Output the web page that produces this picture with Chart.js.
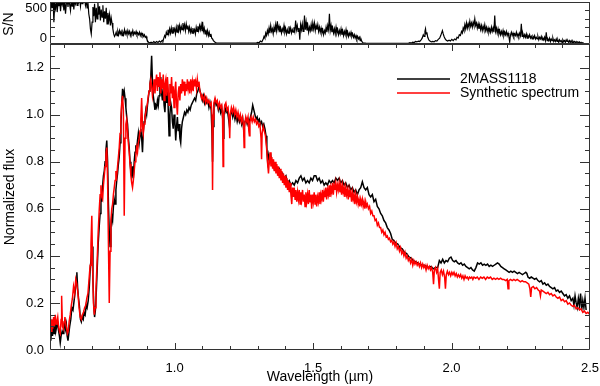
<!DOCTYPE html>
<html>
<head>
<meta charset="utf-8">
<script src="https://cdn.jsdelivr.net/npm/chart.js@4.4.1/dist/chart.umd.min.js"></script>
<style>
  body { margin: 0; background: #fff; }
  canvas { position: absolute; left: 0; top: 0; }
</style>
</head>
<body>
<canvas id="fluxChart" width="600" height="386"></canvas>
<canvas id="snChart" width="600" height="46"></canvas>
<script>
/* Spectrum: [wavelength (um), value] */
const obsSpectrum = [
  [0.549,0.07],[0.551,0.13],[0.553,0.04],[0.556,0.10],[0.559,0.06],[0.562,0.11],[0.565,0.07],[0.568,0.12],[0.571,0.08],[0.574,0.10],
  [0.577,0.12],[0.580,0.09],[0.584,0.06],[0.587,0.03],[0.590,0.06],[0.594,0.08],[0.597,0.07],[0.600,0.10],[0.603,0.12],[0.606,0.09],
  [0.609,0.11],[0.612,0.06],[0.615,0.04],[0.618,0.07],[0.621,0.10],[0.625,0.13],[0.629,0.18],[0.633,0.17],[0.637,0.21],[0.641,0.25],
  [0.644,0.28],[0.647,0.33],[0.650,0.26],[0.653,0.22],[0.656,0.19],[0.660,0.13],[0.663,0.12],[0.666,0.14],[0.670,0.13],[0.673,0.16],
  [0.677,0.15],[0.681,0.19],[0.684,0.18],[0.688,0.21],[0.692,0.27],[0.695,0.34],[0.699,0.40],[0.702,0.44],[0.705,0.30],[0.708,0.19],
  [0.711,0.14],[0.714,0.17],[0.717,0.24],[0.720,0.33],[0.724,0.45],[0.728,0.53],[0.731,0.58],[0.734,0.66],[0.737,0.63],[0.740,0.70],
  [0.743,0.74],[0.746,0.76],[0.749,0.80],[0.752,0.85],[0.755,0.89],[0.758,0.80],[0.761,0.62],[0.764,0.50],[0.767,0.44],[0.770,0.52],
  [0.773,0.57],[0.776,0.55],[0.779,0.61],[0.782,0.64],[0.785,0.62],[0.788,0.68],[0.791,0.72],[0.794,0.75],[0.797,0.79],[0.800,0.82],
  [0.803,0.88],[0.806,0.95],[0.809,1.04],[0.812,1.11],[0.815,1.08],[0.818,1.10],[0.821,1.07],[0.824,1.03],[0.827,0.99],[0.830,0.96],
  [0.833,0.90],[0.836,0.86],[0.839,0.80],[0.842,0.76],[0.845,0.74],[0.848,0.78],[0.851,0.73],[0.854,0.80],[0.857,0.84],[0.860,0.87],
  [0.863,0.85],[0.866,0.89],[0.869,0.92],[0.872,0.88],[0.875,0.91],[0.878,0.94],[0.881,0.90],[0.884,0.84],[0.887,0.93],[0.890,0.97],
  [0.893,0.99],[0.896,1.02],[0.899,1.00],[0.902,1.04],[0.905,1.07],[0.908,1.10],[0.911,1.13],[0.914,1.16],[0.917,1.25],[0.920,1.14],
  [0.923,1.08],[0.926,1.05],[0.929,1.02],[0.932,1.04],[0.935,1.03],[0.938,1.06],[0.941,1.04],[0.944,1.08],[0.947,1.12],[0.950,1.16],
  [0.953,1.09],[0.956,1.06],[0.959,1.11],[0.962,1.04],[0.965,1.01],[0.968,1.09],[0.971,1.05],[0.974,1.13],[0.977,1.02],[0.980,0.91],
  [0.983,1.00],[0.986,1.05],[0.989,1.03],[0.992,0.97],[0.995,0.94],[0.998,1.00],[1.001,0.97],[1.004,0.89],[1.007,0.95],[1.010,0.99],
  [1.013,0.93],[1.016,0.96],[1.019,0.90],[1.022,0.88],[1.025,0.94],[1.028,0.97],[1.032,0.99],[1.036,1.01],[1.040,1.00],[1.044,1.02],
  [1.048,1.01],[1.052,1.03],[1.056,1.02],[1.060,1.04],[1.064,1.05],[1.068,1.06],[1.072,1.07],[1.076,1.06],[1.080,1.09],[1.084,1.10],
  [1.088,1.12],[1.092,1.10],[1.096,1.08],[1.100,1.06],[1.104,1.08],[1.108,1.05],[1.112,1.07],[1.116,1.05],[1.120,1.06],[1.124,1.03],
  [1.128,1.05],[1.132,1.02],[1.135,0.92],[1.137,0.80],[1.139,0.95],[1.142,1.04],[1.146,1.06],[1.150,1.04],[1.154,1.05],[1.158,1.02],
  [1.162,1.04],[1.166,1.01],[1.170,1.03],[1.174,0.98],[1.176,0.90],[1.178,1.00],[1.182,1.03],[1.186,1.01],[1.190,1.02],[1.194,0.99],
  [1.198,0.95],[1.202,1.00],[1.206,1.02],[1.210,0.99],[1.214,1.01],[1.218,0.98],[1.222,1.00],[1.226,0.97],[1.230,0.99],[1.234,0.97],
  [1.238,0.99],[1.242,0.96],[1.246,0.98],[1.250,0.93],[1.254,0.97],[1.258,0.98],[1.262,0.96],[1.266,0.98],[1.270,0.97],[1.274,0.99],
  [1.278,1.01],[1.282,1.04],[1.286,1.02],[1.290,1.00],[1.294,0.98],[1.298,0.99],[1.302,0.97],[1.306,0.98],[1.310,0.96],[1.314,0.97],
  [1.318,0.95],[1.322,0.96],[1.326,0.94],[1.330,0.91],[1.333,0.86],[1.336,0.80],[1.340,0.83],[1.344,0.80],[1.348,0.82],[1.352,0.79],
  [1.356,0.80],[1.360,0.77],[1.366,0.78],[1.372,0.76],[1.378,0.77],[1.384,0.74],[1.390,0.75],[1.396,0.73],[1.402,0.74],[1.408,0.71],
  [1.414,0.72],[1.420,0.70],[1.426,0.71],[1.432,0.70],[1.438,0.72],[1.444,0.71],[1.450,0.73],[1.456,0.74],[1.462,0.72],[1.468,0.73],
  [1.474,0.71],[1.480,0.72],[1.486,0.71],[1.492,0.73],[1.498,0.72],[1.504,0.74],[1.510,0.74],[1.516,0.72],[1.522,0.73],[1.528,0.71],
  [1.534,0.72],[1.540,0.70],[1.546,0.71],[1.552,0.70],[1.558,0.72],[1.564,0.71],[1.570,0.72],[1.576,0.71],[1.582,0.73],[1.588,0.72],
  [1.594,0.73],[1.600,0.71],[1.606,0.72],[1.612,0.70],[1.618,0.71],[1.624,0.69],[1.630,0.70],[1.636,0.68],[1.642,0.69],[1.648,0.67],
  [1.654,0.68],[1.660,0.66],[1.666,0.68],[1.672,0.69],[1.678,0.715],[1.684,0.69],[1.690,0.68],[1.696,0.69],[1.702,0.66],[1.708,0.65],
  [1.714,0.66],[1.720,0.63],[1.726,0.64],[1.732,0.61],[1.738,0.60],[1.744,0.58],[1.750,0.57],[1.756,0.55],[1.762,0.54],[1.768,0.52],
  [1.774,0.51],[1.780,0.495],[1.786,0.47],[1.792,0.465],[1.798,0.455],[1.806,0.45],[1.814,0.435],[1.822,0.43],[1.830,0.415],[1.838,0.41],
  [1.846,0.395],[1.854,0.39],[1.862,0.38],[1.870,0.375],[1.878,0.37],[1.886,0.365],[1.894,0.36],[1.902,0.36],[1.910,0.355],[1.918,0.35],
  [1.926,0.355],[1.934,0.345],[1.942,0.35],[1.950,0.35],[1.956,0.38],[1.962,0.37],[1.968,0.385],[1.974,0.37],[1.980,0.38],[1.986,0.375],
  [1.992,0.39],[1.998,0.395],[2.004,0.38],[2.010,0.375],[2.016,0.38],[2.022,0.37],[2.028,0.365],[2.034,0.37],[2.040,0.36],[2.046,0.365],
  [2.052,0.355],[2.058,0.35],[2.064,0.345],[2.070,0.35],[2.076,0.34],[2.082,0.335],[2.088,0.35],[2.094,0.37],[2.100,0.365],[2.106,0.37],
  [2.112,0.36],[2.118,0.365],[2.124,0.36],[2.130,0.365],[2.136,0.355],[2.142,0.36],[2.148,0.355],[2.154,0.36],[2.160,0.365],[2.166,0.37],
  [2.172,0.365],[2.178,0.355],[2.184,0.35],[2.190,0.345],[2.196,0.34],[2.202,0.335],[2.208,0.33],[2.214,0.335],[2.220,0.33],[2.226,0.335],
  [2.232,0.33],[2.238,0.325],[2.244,0.33],[2.250,0.325],[2.256,0.32],[2.262,0.325],[2.268,0.33],[2.272,0.325],[2.276,0.31],[2.282,0.305],
  [2.288,0.31],[2.294,0.305],[2.300,0.30],[2.306,0.305],[2.312,0.295],[2.318,0.29],[2.324,0.295],[2.330,0.28],[2.336,0.285],[2.342,0.275],
  [2.348,0.28],[2.354,0.27],[2.360,0.265],[2.366,0.26],[2.372,0.265],[2.378,0.25],[2.384,0.255],[2.390,0.245],[2.396,0.25],[2.402,0.24],
  [2.408,0.23],[2.414,0.235],[2.420,0.22],[2.426,0.23],[2.432,0.21],[2.438,0.22],[2.442,0.19],[2.446,0.23],[2.450,0.20],[2.454,0.18],
  [2.458,0.22],[2.462,0.19],[2.466,0.24],[2.470,0.17],[2.474,0.21],[2.478,0.18],[2.482,0.22],[2.486,0.17]
];

const synSpectrum = [
  [0.549,0.10],[0.551,0.15],[0.554,0.08],[0.557,0.13],[0.560,0.09],[0.563,0.14],[0.566,0.10],[0.569,0.15],[0.572,0.11],[0.575,0.12],
  [0.578,0.14],[0.581,0.10],[0.584,0.08],[0.587,0.07],[0.590,0.13],[0.592,0.23],[0.595,0.10],[0.598,0.09],[0.601,0.12],[0.604,0.14],
  [0.607,0.11],[0.610,0.09],[0.613,0.07],[0.616,0.08],[0.619,0.12],[0.623,0.15],[0.627,0.19],[0.631,0.22],[0.635,0.27],[0.639,0.24],
  [0.643,0.30],[0.647,0.28],[0.651,0.24],[0.655,0.18],[0.659,0.14],[0.663,0.13],[0.667,0.15],[0.671,0.16],[0.675,0.18],[0.679,0.19],
  [0.683,0.22],[0.687,0.24],[0.691,0.30],[0.695,0.36],[0.698,0.45],[0.701,0.57],[0.704,0.34],[0.707,0.20],[0.710,0.15],[0.713,0.18],
  [0.716,0.26],[0.720,0.37],[0.724,0.50],[0.728,0.60],[0.731,0.66],[0.734,0.70],[0.737,0.65],[0.740,0.64],[0.743,0.70],[0.746,0.74],
  [0.749,0.78],[0.752,0.83],[0.755,0.86],[0.758,0.72],[0.761,0.45],[0.764,0.20],[0.767,0.42],[0.770,0.55],[0.773,0.60],[0.776,0.62],
  [0.779,0.66],[0.782,0.69],[0.785,0.72],[0.788,0.76],[0.791,0.74],[0.794,0.78],[0.797,0.82],[0.800,0.86],[0.803,0.92],[0.806,0.99],
  [0.809,1.05],[0.812,1.08],[0.815,1.02],[0.818,0.57],[0.821,0.90],[0.824,0.96],[0.827,0.98],[0.830,0.93],[0.833,0.88],[0.836,0.84],
  [0.839,0.79],[0.842,0.74],[0.845,0.71],[0.848,0.69],[0.851,0.72],[0.854,0.76],[0.857,0.80],[0.860,0.83],[0.863,0.86],[0.866,0.84],
  [0.869,0.88],[0.872,0.90],[0.875,0.93],[0.878,0.98],[0.881,1.07],[0.884,0.95],[0.887,0.92],[0.890,0.96],[0.893,0.99],[0.896,1.01],
  [0.899,1.03],[0.902,1.05],[0.905,1.08],[0.908,1.10],[0.911,1.13],[0.914,1.15],[0.917,1.12],[0.920,1.08],[0.923,1.11],[0.926,1.15],
  [0.929,1.09],[0.932,1.14],[0.935,1.17],[0.938,1.10],[0.941,1.16],[0.944,1.12],[0.947,1.18],[0.950,1.09],[0.953,1.15],[0.956,1.11],
  [0.959,1.17],[0.962,1.06],[0.965,1.13],[0.968,1.15],[0.971,1.08],[0.974,1.16],[0.977,1.10],[0.980,1.04],[0.983,1.13],[0.986,1.09],
  [0.989,1.16],[0.992,1.07],[0.995,1.12],[0.998,1.03],[1.001,1.10],[1.004,1.14],[1.007,1.05],[1.010,1.00],[1.013,1.09],[1.016,1.12],
  [1.019,1.06],[1.022,1.13],[1.025,1.09],[1.028,1.15],[1.031,1.10],[1.034,1.14],[1.037,1.08],[1.040,1.13],[1.043,1.10],[1.046,1.15],
  [1.049,1.11],[1.052,1.14],[1.055,1.09],[1.058,1.15],[1.061,1.11],[1.064,1.14],[1.067,1.10],[1.070,1.15],[1.073,1.12],[1.076,1.14],
  [1.079,1.11],[1.082,1.15],[1.085,1.12],[1.088,1.14],[1.091,1.10],[1.094,1.09],[1.097,1.07],[1.100,1.08],[1.104,1.06],[1.108,1.08],
  [1.112,1.05],[1.116,1.07],[1.120,1.05],[1.124,1.06],[1.128,1.04],[1.132,1.05],[1.135,1.00],[1.137,0.68],[1.139,0.98],[1.142,1.05],
  [1.146,1.07],[1.150,1.05],[1.154,1.06],[1.158,1.03],[1.162,1.05],[1.166,1.03],[1.170,1.04],[1.173,1.00],[1.175,0.78],[1.177,0.99],
  [1.181,1.04],[1.185,1.05],[1.189,1.02],[1.193,1.03],[1.197,0.98],[1.199,0.90],[1.201,1.00],[1.205,1.03],[1.209,1.01],[1.213,1.03],
  [1.217,1.00],[1.221,1.02],[1.225,0.99],[1.229,1.01],[1.233,0.98],[1.237,1.00],[1.241,0.97],[1.245,0.99],[1.249,0.95],[1.251,0.86],
  [1.253,0.96],[1.257,0.99],[1.261,0.97],[1.265,0.99],[1.268,0.93],[1.270,0.91],[1.272,0.97],[1.276,0.99],[1.280,0.97],[1.284,0.99],
  [1.288,0.97],[1.292,0.98],[1.296,0.96],[1.300,0.97],[1.304,0.95],[1.308,0.96],[1.312,0.90],[1.314,0.81],[1.316,0.92],[1.320,0.95],
  [1.324,0.93],[1.328,0.91],[1.332,0.86],[1.336,0.79],[1.339,0.75],[1.342,0.81],[1.345,0.84],[1.348,0.78],[1.351,0.82],[1.354,0.77],
  [1.357,0.81],[1.360,0.76],[1.363,0.80],[1.366,0.75],[1.369,0.79],[1.372,0.74],[1.375,0.78],[1.378,0.73],[1.381,0.77],[1.384,0.72],
  [1.387,0.76],[1.390,0.71],[1.393,0.75],[1.396,0.70],[1.399,0.74],[1.402,0.69],[1.405,0.73],[1.408,0.68],[1.411,0.72],[1.414,0.67],
  [1.417,0.71],[1.420,0.66],[1.423,0.62],[1.426,0.69],[1.429,0.65],[1.432,0.69],[1.435,0.64],[1.438,0.68],[1.441,0.63],[1.444,0.67],
  [1.447,0.64],[1.450,0.68],[1.453,0.62],[1.456,0.67],[1.459,0.64],[1.462,0.68],[1.465,0.63],[1.468,0.66],[1.471,0.61],[1.474,0.67],
  [1.477,0.63],[1.480,0.66],[1.483,0.62],[1.486,0.68],[1.489,0.63],[1.492,0.66],[1.495,0.60],[1.498,0.66],[1.501,0.63],[1.504,0.67],
  [1.507,0.62],[1.510,0.66],[1.513,0.61],[1.516,0.65],[1.519,0.63],[1.522,0.67],[1.525,0.62],[1.528,0.66],[1.531,0.64],[1.534,0.68],
  [1.537,0.63],[1.540,0.67],[1.543,0.65],[1.546,0.69],[1.549,0.64],[1.552,0.68],[1.555,0.66],[1.558,0.70],[1.561,0.65],[1.564,0.69],
  [1.567,0.67],[1.570,0.71],[1.573,0.66],[1.576,0.70],[1.579,0.68],[1.582,0.71],[1.585,0.67],[1.588,0.70],[1.591,0.68],[1.594,0.71],
  [1.597,0.67],[1.600,0.70],[1.603,0.66],[1.606,0.70],[1.609,0.67],[1.612,0.69],[1.615,0.65],[1.618,0.69],[1.621,0.66],[1.624,0.68],
  [1.627,0.64],[1.630,0.68],[1.633,0.65],[1.636,0.67],[1.639,0.63],[1.642,0.67],[1.645,0.64],[1.648,0.66],[1.651,0.62],[1.654,0.66],
  [1.657,0.63],[1.660,0.65],[1.663,0.62],[1.666,0.64],[1.669,0.61],[1.672,0.64],[1.675,0.62],[1.678,0.64],[1.681,0.61],[1.684,0.63],
  [1.687,0.60],[1.690,0.63],[1.693,0.61],[1.696,0.62],[1.700,0.60],[1.704,0.61],[1.708,0.58],[1.712,0.59],[1.716,0.57],[1.720,0.57],
  [1.724,0.55],[1.728,0.555],[1.732,0.53],[1.736,0.54],[1.740,0.52],[1.744,0.52],[1.748,0.50],[1.752,0.51],[1.756,0.49],[1.760,0.50],
  [1.764,0.48],[1.768,0.485],[1.772,0.47],[1.776,0.475],[1.780,0.46],[1.784,0.465],[1.788,0.45],[1.792,0.46],[1.796,0.44],[1.800,0.455],
  [1.804,0.43],[1.808,0.44],[1.812,0.42],[1.816,0.435],[1.820,0.41],[1.824,0.42],[1.828,0.40],[1.832,0.415],[1.836,0.39],[1.840,0.40],
  [1.844,0.38],[1.848,0.39],[1.852,0.37],[1.856,0.385],[1.860,0.36],[1.864,0.38],[1.868,0.365],[1.872,0.375],[1.876,0.36],[1.880,0.37],
  [1.884,0.355],[1.888,0.37],[1.892,0.35],[1.896,0.365],[1.900,0.35],[1.904,0.36],[1.908,0.34],[1.912,0.36],[1.916,0.345],[1.920,0.355],
  [1.924,0.34],[1.928,0.35],[1.932,0.33],[1.935,0.28],[1.938,0.34],[1.942,0.35],[1.946,0.33],[1.950,0.345],[1.953,0.30],[1.956,0.26],
  [1.959,0.33],[1.963,0.34],[1.967,0.32],[1.971,0.335],[1.975,0.31],[1.978,0.26],[1.981,0.32],[1.985,0.335],[1.989,0.32],[1.993,0.33],
  [1.997,0.315],[2.001,0.33],[2.005,0.32],[2.009,0.33],[2.013,0.315],[2.017,0.325],[2.021,0.31],[2.025,0.32],[2.029,0.31],[2.033,0.32],
  [2.037,0.305],[2.041,0.315],[2.045,0.30],[2.049,0.315],[2.053,0.305],[2.057,0.31],[2.061,0.30],[2.065,0.31],[2.069,0.305],[2.073,0.31],
  [2.077,0.30],[2.081,0.31],[2.087,0.305],[2.093,0.31],[2.099,0.30],[2.105,0.31],[2.111,0.305],[2.117,0.31],[2.123,0.30],[2.129,0.31],
  [2.135,0.305],[2.141,0.31],[2.147,0.30],[2.153,0.305],[2.159,0.30],[2.165,0.305],[2.171,0.30],[2.177,0.305],[2.183,0.30],[2.189,0.30],
  [2.195,0.295],[2.201,0.30],[2.204,0.26],[2.207,0.295],[2.213,0.30],[2.219,0.295],[2.225,0.30],[2.231,0.295],[2.237,0.30],[2.243,0.295],
  [2.249,0.29],[2.255,0.295],[2.261,0.29],[2.267,0.29],[2.273,0.285],[2.279,0.28],[2.283,0.26],[2.286,0.225],[2.289,0.265],[2.295,0.27],
  [2.301,0.26],[2.307,0.265],[2.313,0.255],[2.318,0.25],[2.321,0.23],[2.324,0.255],[2.330,0.25],[2.336,0.245],[2.342,0.24],[2.348,0.245],
  [2.354,0.235],[2.360,0.24],[2.366,0.23],[2.372,0.235],[2.378,0.225],[2.384,0.22],[2.390,0.225],[2.396,0.21],[2.402,0.215],[2.408,0.205],
  [2.414,0.21],[2.420,0.195],[2.426,0.20],[2.432,0.19],[2.438,0.185],[2.444,0.19],[2.450,0.175],[2.456,0.18],[2.462,0.17],[2.468,0.175],
  [2.474,0.16],[2.480,0.165],[2.486,0.155],[2.492,0.16],[2.500,0.15]
];

/* S/N of the observed spectrum (top panel), clipped at 500 */
const snCurve = [
  [0.549,480],[0.552,380],[0.555,520],[0.558,430],[0.561,540],[0.564,260],[0.567,470],[0.570,420],[0.573,540],[0.576,380],
  [0.579,500],[0.582,450],[0.585,540],[0.588,390],[0.591,510],[0.594,470],[0.597,540],[0.600,400],[0.603,520],[0.606,360],
  [0.609,480],[0.612,530],[0.615,440],[0.618,540],[0.621,470],[0.624,400],[0.627,530],[0.630,450],[0.633,540],[0.636,410],
  [0.639,520],[0.642,480],[0.645,540],[0.648,460],[0.651,530],[0.654,500],[0.657,540],[0.660,450],[0.663,540],[0.666,480],
  [0.669,530],[0.672,510],[0.675,540],[0.678,460],[0.681,520],[0.684,430],[0.687,500],[0.690,360],[0.693,300],[0.696,180],
  [0.699,120],[0.702,260],[0.705,440],[0.708,330],[0.711,480],[0.714,260],[0.717,430],[0.720,300],[0.723,490],[0.726,350],
  [0.729,450],[0.732,280],[0.735,410],[0.738,320],[0.741,460],[0.744,260],[0.747,390],[0.750,300],[0.753,430],[0.756,240],
  [0.759,370],[0.762,280],[0.765,350],[0.768,220],[0.771,310],[0.774,250],[0.777,180],[0.780,120],[0.783,90],[0.786,110],
  [0.789,140],[0.792,100],[0.795,150],[0.798,110],[0.801,160],[0.804,120],[0.807,150],[0.810,100],[0.813,140],[0.816,110],
  [0.819,170],[0.822,120],[0.825,150],[0.828,110],[0.831,160],[0.834,120],[0.837,150],[0.840,100],[0.843,140],[0.846,120],
  [0.849,160],[0.852,110],[0.855,140],[0.858,120],[0.861,150],[0.864,110],[0.867,130],[0.870,110],[0.873,140],[0.876,100],
  [0.879,130],[0.882,100],[0.885,120],[0.888,90],[0.891,110],[0.894,80],[0.897,90],[0.900,55],[0.903,35],[0.906,20],
  [0.910,12],[0.915,22],[0.920,12],[0.925,28],[0.930,16],[0.935,30],[0.940,18],[0.945,34],[0.950,22],[0.955,44],
  [0.958,34],[0.961,70],[0.964,100],[0.967,80],[0.970,140],[0.973,110],[0.976,170],[0.979,120],[0.982,180],[0.985,130],
  [0.988,190],[0.991,130],[0.994,200],[0.997,150],[1.000,180],[1.003,120],[1.006,200],[1.009,140],[1.012,230],[1.015,160],
  [1.018,220],[1.021,150],[1.024,210],[1.027,170],[1.030,250],[1.033,180],[1.036,230],[1.039,160],[1.042,240],[1.045,180],
  [1.048,220],[1.051,150],[1.054,200],[1.057,140],[1.060,180],[1.063,130],[1.066,190],[1.069,140],[1.072,170],[1.075,120],
  [1.078,200],[1.081,150],[1.084,210],[1.087,160],[1.090,220],[1.093,170],[1.096,230],[1.099,160],[1.101,265],[1.104,150],
  [1.107,190],[1.110,120],[1.113,170],[1.116,110],[1.119,160],[1.122,100],[1.125,140],[1.128,90],[1.131,120],[1.134,70],
  [1.137,60],[1.140,40],[1.145,25],[1.150,15],[1.160,10],[1.180,10],[1.200,10],[1.220,10],[1.240,10],[1.260,10],
  [1.280,10],[1.295,12],[1.300,20],[1.305,15],[1.310,35],[1.315,25],[1.320,60],[1.323,90],[1.326,70],[1.329,130],
  [1.332,100],[1.335,160],[1.338,120],[1.341,190],[1.344,130],[1.347,220],[1.350,150],[1.353,180],[1.356,120],[1.359,200],
  [1.362,140],[1.365,230],[1.368,160],[1.371,270],[1.374,170],[1.377,210],[1.380,140],[1.383,190],[1.386,130],[1.389,180],
  [1.392,150],[1.395,220],[1.398,140],[1.401,180],[1.404,120],[1.407,170],[1.410,130],[1.413,210],[1.416,150],[1.419,190],
  [1.422,130],[1.425,170],[1.428,140],[1.431,200],[1.434,150],[1.437,280],[1.440,170],[1.443,220],[1.446,150],[1.449,190],
  [1.452,50],[1.455,230],[1.458,170],[1.461,240],[1.464,150],[1.467,220],[1.469,340],[1.472,170],[1.475,260],[1.478,160],
  [1.481,220],[1.484,140],[1.487,200],[1.490,160],[1.493,230],[1.496,150],[1.499,250],[1.502,180],[1.505,250],[1.508,160],
  [1.511,220],[1.514,170],[1.517,230],[1.520,150],[1.523,200],[1.526,140],[1.529,190],[1.532,130],[1.535,170],[1.538,110],
  [1.541,160],[1.544,130],[1.547,200],[1.550,140],[1.553,220],[1.556,170],[1.559,360],[1.562,160],[1.565,220],[1.568,140],
  [1.571,190],[1.574,130],[1.577,180],[1.580,120],[1.583,200],[1.586,130],[1.589,170],[1.592,110],[1.595,160],[1.598,120],
  [1.601,180],[1.604,110],[1.607,160],[1.610,100],[1.613,150],[1.616,110],[1.619,170],[1.622,100],[1.625,140],[1.628,90],
  [1.631,130],[1.634,100],[1.637,140],[1.640,90],[1.643,120],[1.646,80],[1.649,110],[1.652,70],[1.655,100],[1.658,60],
  [1.661,90],[1.664,60],[1.667,80],[1.670,40],[1.673,60],[1.676,30],[1.680,15],[1.690,10],[1.720,8],[1.760,8],
  [1.800,8],[1.845,10],[1.850,15],[1.855,12],[1.860,22],[1.865,18],[1.870,30],[1.875,25],[1.880,35],[1.885,30],
  [1.890,50],[1.894,70],[1.898,110],[1.901,90],[1.904,150],[1.906,180],[1.908,120],[1.911,140],[1.914,80],[1.918,50],
  [1.922,35],[1.927,25],[1.932,30],[1.937,25],[1.942,40],[1.947,35],[1.952,55],[1.957,70],[1.961,100],[1.964,130],
  [1.967,160],[1.970,120],[1.973,90],[1.977,60],[1.981,45],[1.986,35],[1.991,45],[1.996,35],[2.001,55],[2.006,40],
  [2.011,60],[2.016,50],[2.020,80],[2.024,70],[2.028,110],[2.032,100],[2.036,150],[2.039,130],[2.042,190],[2.045,160],
  [2.048,230],[2.051,180],[2.054,250],[2.057,190],[2.060,240],[2.063,200],[2.066,270],[2.069,210],[2.072,250],[2.075,200],
  [2.078,260],[2.081,220],[2.084,300],[2.087,220],[2.090,250],[2.093,190],[2.096,240],[2.099,180],[2.102,230],[2.105,170],
  [2.108,220],[2.111,160],[2.114,210],[2.117,170],[2.120,230],[2.123,160],[2.126,200],[2.129,150],[2.132,190],[2.135,140],
  [2.138,180],[2.141,140],[2.144,200],[2.147,150],[2.150,190],[2.153,140],[2.156,340],[2.159,150],[2.162,190],[2.165,130],
  [2.168,180],[2.171,120],[2.174,160],[2.177,110],[2.180,150],[2.183,110],[2.186,160],[2.189,100],[2.192,140],[2.195,110],
  [2.198,150],[2.201,100],[2.204,130],[2.207,90],[2.210,25],[2.213,110],[2.216,140],[2.219,100],[2.222,130],[2.225,90],
  [2.228,120],[2.231,100],[2.234,140],[2.237,90],[2.240,120],[2.243,90],[2.246,130],[2.249,100],[2.252,240],[2.255,90],
  [2.258,120],[2.261,80],[2.264,110],[2.267,80],[2.270,120],[2.273,70],[2.276,100],[2.279,80],[2.282,110],[2.285,70],
  [2.288,90],[2.291,60],[2.294,90],[2.297,70],[2.300,100],[2.303,60],[2.306,80],[2.309,60],[2.312,90],[2.315,50],
  [2.318,80],[2.321,60],[2.324,90],[2.327,50],[2.330,70],[2.333,50],[2.336,80],[2.339,40],[2.342,140],[2.345,40],
  [2.348,60],[2.351,40],[2.354,70],[2.357,30],[2.360,60],[2.363,40],[2.366,70],[2.369,30],[2.372,50],[2.375,30],
  [2.378,60],[2.381,30],[2.384,50],[2.387,20],[2.390,50],[2.393,30],[2.396,40],[2.399,20],[2.402,50],[2.405,30],
  [2.408,40],[2.411,20],[2.414,50],[2.417,30],[2.420,40],[2.423,20],[2.426,40],[2.429,20],[2.432,40],[2.435,15],
  [2.438,35],[2.441,20],[2.444,30],[2.447,15],[2.450,30],[2.453,15],[2.456,25],[2.459,15],[2.462,25],[2.465,10],
  [2.468,20],[2.471,10],[2.474,15],[2.477,8]
];

const waveTicks = [1.0, 1.5, 2.0, 2.5];
const fluxTicks = [0.0, 0.2, 0.4, 0.6, 0.8, 1.0, 1.2];
const snTicks = [0, 500];
const seriesNames = ["2MASS1118", "Synthetic spectrum"];
const seriesColors = ["#000000", "#ff0000"];

const FONT = "'Liberation Sans', Arial, Helvetica, sans-serif";
const toPoints = arr => arr.map(p => ({ x: p[0], y: p[1] }));

// tick positions: every 0.1 um on x, every 0.05 on flux, every 100 on S/N
const waveMinor = [];
for (let i = 6; i <= 24; i++) waveMinor.push({ v: i / 10, major: i % 5 === 0 });
const fluxMinor = [];
for (let i = 1; i <= 25; i++) fluxMinor.push({ v: i * 0.05, major: i % 4 === 0 });
const snMinor = [];
for (let i = 1; i <= 4; i++) snMinor.push({ v: i * 100, major: false });

/* Box round the plot with IDL style ticks pointing inwards */
function drawFrame(chart, xList, yList, xLen, yLen) {
  const { ctx, chartArea: a, scales } = chart;
  ctx.save();
  ctx.strokeStyle = "#333";
  ctx.lineWidth = 1;
  ctx.beginPath();
  ctx.rect(a.left + 0.5, a.top + 0.5, a.right - a.left - 1, a.bottom - a.top - 1);
  xList.forEach(t => {
    const x = Math.round(scales.x.getPixelForValue(t.v)) + 0.5;
    const len = t.major ? xLen[0] : xLen[1];
    ctx.moveTo(x, a.bottom); ctx.lineTo(x, a.bottom - len);
    ctx.moveTo(x, a.top); ctx.lineTo(x, a.top + len);
  });
  yList.forEach(t => {
    const y = Math.round(scales.y.getPixelForValue(t.v)) + 0.5;
    const len = t.major ? yLen[0] : yLen[1];
    ctx.moveTo(a.left, y); ctx.lineTo(a.left + len, y);
    ctx.moveTo(a.right, y); ctx.lineTo(a.right - len, y);
  });
  ctx.stroke();
  ctx.restore();
}

const fluxFrame = {
  id: "fluxFrame",
  afterDraw(chart) {
    drawFrame(chart, waveMinor, fluxMinor, [7, 4], [10, 5]);
    // legend, upper right inside the plot
    const { ctx, chartArea: a } = chart;
    ctx.save();
    ctx.font = "14px " + FONT;
    ctx.textBaseline = "middle";
    seriesNames.forEach((name, i) => {
      const y = a.top + 35 + i * 14;
      ctx.strokeStyle = seriesColors[i];
      ctx.lineWidth = 1.5;
      ctx.beginPath();
      ctx.moveTo(a.right - 193, y);
      ctx.lineTo(a.right - 140, y);
      ctx.stroke();
      ctx.fillStyle = "#000";
      ctx.fillText(name, a.right - 130, y);
    });
    ctx.restore();
  }
};

const snFrame = {
  id: "snFrame",
  afterDraw(chart) {
    const ys = snTicks.map(v => ({ v: v, major: true })).concat(snMinor);
    drawFrame(chart, [], ys, [0, 0], [10, 5]);
    const { ctx, chartArea: a } = chart;
    ctx.save();
    ctx.fillStyle = "#000";
    ctx.font = "13px " + FONT;
    ctx.textAlign = "right";
    ctx.textBaseline = "middle";
    // IDL pulls the end labels inside the panel
    ctx.fillText(String(snTicks[1]), a.left - 3, a.top + 6);
    ctx.fillText(String(snTicks[0]), a.left - 3, a.bottom - 6);
    ctx.translate(9, (a.top + a.bottom) / 2 + 1);
    ctx.rotate(-Math.PI / 2);
    ctx.textAlign = "center";
    ctx.font = "14px " + FONT;
    ctx.fillText("S/N", 0, 0);
    ctx.restore();
  }
};

new Chart(document.getElementById("fluxChart"), {
  type: "line",
  data: {
    datasets: [
      {
        label: seriesNames[1],
        data: toPoints(synSpectrum),
        borderColor: seriesColors[1],
        borderWidth: 1.5,
        pointRadius: 0,
        order: 0
      },
      {
        label: seriesNames[0],
        data: toPoints(obsSpectrum),
        borderColor: seriesColors[0],
        borderWidth: 1.5,
        pointRadius: 0,
        order: 1
      }
    ]
  },
  options: {
    responsive: false,
    animation: false,
    events: [],
    layout: { padding: { top: 44, right: 10, left: 0, bottom: 0 } },
    plugins: { legend: { display: false }, tooltip: { enabled: false } },
    scales: {
      x: {
        type: "linear",
        min: 0.55,
        max: 2.5,
        grid: { display: false, drawTicks: false },
        border: { display: false },
        afterBuildTicks: s => { s.ticks = waveTicks.map(v => ({ value: v })); },
        afterFit: s => { s.height = 36; s.paddingLeft = 0; s.paddingRight = 0; },
        ticks: {
          padding: 11,
          color: "#000",
          maxRotation: 0,
          autoSkip: false,
          font: { family: FONT, size: 13 },
          callback: v => Number(v).toFixed(1)
        },
        title: {
          display: true,
          text: "Wavelength (µm)",
          color: "#000",
          padding: { top: 0, bottom: 0 },
          font: { family: FONT, size: 14 }
        }
      },
      y: {
        type: "linear",
        min: 0,
        max: 1.3,
        grid: { display: false, drawTicks: false },
        border: { display: false },
        afterBuildTicks: s => { s.ticks = fluxTicks.map(v => ({ value: v })); },
        afterFit: s => { s.width = 50; s.paddingTop = 0; s.paddingBottom = 0; },
        ticks: {
          padding: 6,
          color: "#000",
          font: { family: FONT, size: 13 },
          callback: v => Number(v).toFixed(1)
        },
        title: {
          display: true,
          text: "Normalized flux",
          color: "#000",
          padding: { top: 2, bottom: 0 },
          font: { family: FONT, size: 14 }
        }
      }
    }
  },
  plugins: [fluxFrame]
});

new Chart(document.getElementById("snChart"), {
  type: "line",
  data: {
    datasets: [
      {
        label: "S/N",
        data: toPoints(snCurve),
        borderColor: "#000",
        borderWidth: 1.2,
        pointRadius: 0
      }
    ]
  },
  options: {
    responsive: false,
    animation: false,
    events: [],
    layout: { padding: { top: 2, right: 10, left: 0, bottom: 2 } },
    plugins: { legend: { display: false }, tooltip: { enabled: false } },
    scales: {
      x: { type: "linear", min: 0.55, max: 2.5, display: false },
      y: {
        type: "linear",
        min: 0,
        max: 500,
        grid: { display: false, drawTicks: false },
        border: { display: false },
        ticks: { display: false },
        afterFit: s => { s.width = 50; s.paddingTop = 0; s.paddingBottom = 0; }
      }
    }
  },
  plugins: [snFrame]
});
</script>
</body>
</html>
